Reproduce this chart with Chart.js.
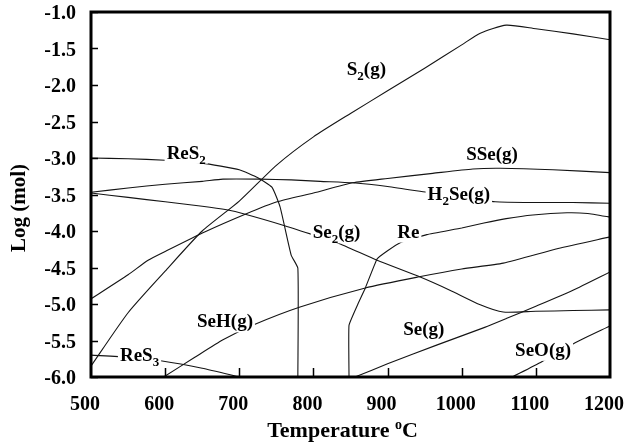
<!DOCTYPE html>
<html>
<head>
<meta charset="utf-8">
<title>Log (mol) vs Temperature</title>
<script src="https://cdn.jsdelivr.net/npm/chart.js"></script>
<style>
  html, body { margin: 0; padding: 0; background: #fff; }
  #wrap { width: 626px; height: 445px; }
</style>
</head>
<body>
<div id="wrap"><canvas id="chart" width="626" height="445"></canvas></div>
<script>
// Equilibrium amounts (log mol) against temperature, one pair of arrays per species
const s2Temp   = [500, 550, 600, 650, 700, 750, 800, 850, 900, 950, 1000, 1025, 1060, 1100, 1150, 1200];
const s2Log    = [-5.85, -5.12, -4.55, -4.0, -3.59, -3.10, -2.71, -2.39, -2.08, -1.77, -1.45, -1.29, -1.18, -1.23, -1.30, -1.38];

const res2Temp = [500, 550, 600, 650, 700, 725, 744, 755, 770, 779, 779];
const res2Log  = [-3.0, -3.01, -3.03, -3.07, -3.16, -3.27, -3.40, -3.67, -4.33, -4.51, -6.0];

const sseTemp  = [500, 550, 577, 600, 654, 708, 751, 800, 853, 900, 961, 1015, 1052, 1123, 1200];
const sseLog   = [-4.93, -4.60, -4.40, -4.28, -4.01, -3.77, -3.60, -3.48, -3.34, -3.28, -3.21, -3.15, -3.14, -3.16, -3.20];

const h2seTemp = [500, 550, 600, 650, 678, 728, 770, 809, 853, 900, 953, 1000, 1045, 1100, 1150, 1200];
const h2seLog  = [-3.47, -3.41, -3.36, -3.32, -3.29, -3.29, -3.30, -3.32, -3.34, -3.39, -3.47, -3.54, -3.60, -3.61, -3.61, -3.62];

const se2Temp  = [500, 550, 600, 650, 683, 708, 759, 799, 832, 886, 944, 984, 1025, 1056, 1100, 1150, 1200];
const se2Log   = [-3.48, -3.54, -3.60, -3.66, -3.71, -3.77, -3.92, -4.05, -4.16, -4.40, -4.63, -4.81, -5.01, -5.11, -5.10, -5.09, -5.08];

const reTemp   = [848, 848, 860, 870, 886, 900, 917, 953, 1000, 1030, 1060, 1096, 1142, 1170, 1200];
const reLog    = [-6.0, -5.29, -5.0, -4.78, -4.38, -4.27, -4.16, -4.05, -3.96, -3.89, -3.83, -3.78, -3.75, -3.76, -3.81];

const sehTemp  = [598, 640, 678, 718, 782, 870, 941, 1000, 1056, 1130, 1200];
const sehLog   = [-6.0, -5.73, -5.49, -5.29, -5.04, -4.78, -4.63, -4.52, -4.44, -4.24, -4.08];

const seTemp   = [856, 900, 967, 1031, 1060, 1100, 1150, 1200];
const seLog    = [-6.0, -5.82, -5.56, -5.32, -5.20, -5.03, -4.81, -4.56];

const seoTemp  = [1068, 1108, 1153, 1200];
const seoLog   = [-6.0, -5.79, -5.53, -5.30];

const res3Temp = [500, 550, 596, 650, 700];
const res3Log  = [-5.70, -5.73, -5.78, -5.88, -6.0];

// axis range and ticks
const tempMin = 500, tempMax = 1200, tempStep = 100;
const logMin = -6.0, logMax = -1.0, logStep = 0.5;

// curve names, placed in data units (left edge, baseline); "_" marks a subscript digit
const curveLabels = [
  { text: 'S_2(g)',   t: 845,  v: -1.86 },
  { text: 'ReS_2',    t: 602,  v: -3.01 },
  { text: 'SSe(g)',   t: 1006, v: -3.03 },
  { text: 'H_2Se(g)', t: 954,  v: -3.57 },
  { text: 'Se_2(g)',  t: 799,  v: -4.10 },
  { text: 'Re',       t: 913,  v: -4.09 },
  { text: 'SeH(g)',   t: 643,  v: -5.32 },
  { text: 'ReS_3',    t: 539,  v: -5.78 },
  { text: 'Se(g)',    t: 921,  v: -5.42 },
  { text: 'SeO(g)',   t: 1072, v: -5.71 }
];

const SERIF = '"Liberation Serif", "Times New Roman", serif';

function toPoints(ts, vs) {
  return ts.map((t, i) => ({ x: t, y: vs[i] }));
}

// name, temperatures, values, curve smoothing
const series = [
  ['S2(g)', s2Temp, s2Log, 0.2],
  ['ReS2', res2Temp, res2Log, 0.15],
  ['SSe(g)', sseTemp, sseLog, 0.2],
  ['H2Se(g)', h2seTemp, h2seLog, 0.2],
  ['Se2(g)', se2Temp, se2Log, 0.2],
  ['Re', reTemp, reLog, 0.1],
  ['SeH(g)', sehTemp, sehLog, 0.2],
  ['Se(g)', seTemp, seLog, 0.2],
  ['SeO(g)', seoTemp, seoLog, 0.2],
  ['ReS3', res3Temp, res3Log, 0.2]
];

// split "H_2Se(g)" into plain and subscript runs
function parseLabel(str) {
  const parts = [];
  let buf = '';
  for (let i = 0; i < str.length; i++) {
    if (str[i] === '_') {
      if (buf) parts.push({ t: buf, sub: false });
      buf = '';
      parts.push({ t: str[i + 1], sub: true });
      i++;
    } else {
      buf += str[i];
    }
  }
  if (buf) parts.push({ t: buf, sub: false });
  return parts;
}

function richWidth(ctx, parts, size) {
  let w = 0;
  for (const p of parts) {
    ctx.font = 'bold ' + (p.sub ? Math.round(size * 0.68) : size) + 'px ' + SERIF;
    w += ctx.measureText(p.t).width;
  }
  return w;
}

function drawRich(ctx, parts, x, y, size) {
  let cx = x;
  for (const p of parts) {
    const fs = p.sub ? Math.round(size * 0.68) : size;
    ctx.font = 'bold ' + fs + 'px ' + SERIF;
    ctx.fillText(p.t, cx, y + (p.sub ? size * 0.26 : 0));
    cx += ctx.measureText(p.t).width;
  }
}

// frame, inward tick marks, curve names and axis titles
const decorations = {
  id: 'decorations',
  afterDatasetsDraw(chart) {
    const { ctx, chartArea: a, scales: { x, y } } = chart;
    ctx.save();

    ctx.strokeStyle = '#000';
    ctx.lineWidth = 3;
    ctx.strokeRect(a.left, a.top, a.right - a.left, a.bottom - a.top);

    ctx.lineWidth = 1.5;
    ctx.beginPath();
    y.ticks.forEach(tk => {
      const py = Math.round(y.getPixelForValue(tk.value)) + 0.5;
      ctx.moveTo(a.left, py);
      ctx.lineTo(a.left + 7, py);
    });
    x.ticks.forEach(tk => {
      if (tk.value <= tempMin || tk.value >= tempMax) return;
      const px = Math.round(x.getPixelForValue(tk.value)) + 0.5;
      ctx.moveTo(px, a.bottom);
      ctx.lineTo(px, a.bottom - 9);
    });
    ctx.stroke();

    const size = 19;
    ctx.textAlign = 'left';
    ctx.textBaseline = 'alphabetic';
    curveLabels.forEach(l => {
      const parts = parseLabel(l.text);
      const lx = x.getPixelForValue(l.t);
      const ly = y.getPixelForValue(l.v);
      const w = richWidth(ctx, parts, size);
      ctx.fillStyle = '#fff';
      ctx.fillRect(lx - 2, ly - 14, w + 4, 19);
      ctx.fillStyle = '#000';
      drawRich(ctx, parts, lx, ly, size);
    });

    // x title with a raised "o" for degrees
    const cx = (a.left + a.right) / 2 - 8;
    const by = 437;
    ctx.font = 'bold 22px ' + SERIF;
    const w1 = ctx.measureText('Temperature ').width;
    const w3 = ctx.measureText('C').width;
    ctx.font = 'bold 14px ' + SERIF;
    const w2 = ctx.measureText('o').width;
    let sx = cx - (w1 + w2 + w3) / 2;
    ctx.font = 'bold 22px ' + SERIF;
    ctx.fillText('Temperature ', sx, by);
    ctx.font = 'bold 14px ' + SERIF;
    ctx.fillText('o', sx + w1, by - 8);
    ctx.font = 'bold 22px ' + SERIF;
    ctx.fillText('C', sx + w1 + w2, by);

    ctx.translate(20, 208);
    ctx.rotate(-Math.PI / 2);
    ctx.textAlign = 'center';
    ctx.textBaseline = 'middle';
    ctx.font = 'bold 21px ' + SERIF;
    ctx.fillText('Log (mol)', 0, 0);

    ctx.restore();
  }
};

const tickFont = { family: SERIF, weight: 'bold' };

new Chart(document.getElementById('chart').getContext('2d'), {
  type: 'line',
  data: {
    datasets: series.map(([name, ts, vs, smooth]) => ({
      label: name,
      data: toPoints(ts, vs),
      borderColor: '#141414',
      borderWidth: 1.1,
      pointRadius: 0,
      tension: smooth,
      fill: false
    }))
  },
  options: {
    responsive: false,
    animation: false,
    layout: { padding: { top: 12, right: 16, bottom: 0, left: 0 } },
    plugins: { legend: { display: false }, tooltip: { enabled: false } },
    scales: {
      x: {
        type: 'linear',
        min: tempMin,
        max: tempMax,
        grid: { display: false },
        border: { display: false },
        ticks: {
          stepSize: tempStep,
          color: '#000',
          font: { ...tickFont, size: 20 },
          padding: 8,
          labelOffset: -6,
          maxRotation: 0,
          autoSkip: false,
          callback: v => String(v)
        },
        afterFit(scale) {
          scale.height = 68;
          scale.paddingLeft = 0;
          scale.paddingRight = 0;
        }
      },
      y: {
        type: 'linear',
        min: logMin,
        max: logMax,
        grid: { display: false },
        border: { display: false },
        ticks: {
          stepSize: logStep,
          color: '#000',
          font: { ...tickFont, size: 20 },
          padding: 7,
          labelOffset: 2,
          autoSkip: false,
          callback: v => v.toFixed(1)
        },
        afterFit(scale) {
          scale.width = 91;
          scale.paddingTop = 0;
          scale.paddingBottom = 0;
        }
      }
    }
  },
  plugins: [decorations]
});
</script>
</body>
</html>
